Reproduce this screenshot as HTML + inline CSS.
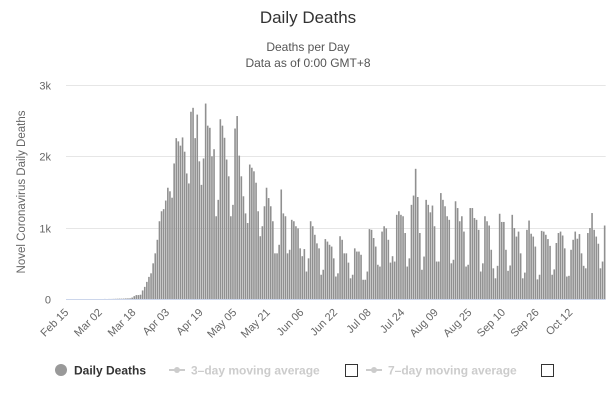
<!DOCTYPE html>
<html><head><meta charset="utf-8"><style>
body{margin:0;background:#fff;font-family:"Liberation Sans",Arial,sans-serif;}
svg{display:block}
</style></head><body>
<svg id="chart" width="616" height="400" viewBox="0 0 616 400" xmlns="http://www.w3.org/2000/svg">
<text x="308" y="23" text-anchor="middle" font-size="17" fill="#333">Daily Deaths</text>
<text x="308" y="51" text-anchor="middle" font-size="12" fill="#555">Deaths per Day</text>
<text x="308" y="67" text-anchor="middle" font-size="12" fill="#555">Data as of 0:00 GMT+8</text>
<text transform="translate(25,192) rotate(-90)" text-anchor="middle" font-size="11.5" fill="#666">Novel Coronavirus Daily Deaths</text>
<g id="grid"></g><g id="bars"></g><g id="xlabels"></g>
<g>
 <g>
  <circle cx="61" cy="370" r="6" fill="#999"/>
  <text x="74" y="374.5" font-size="12" font-weight="bold" fill="#333">Daily Deaths</text>
 </g>
 <g>
  <line x1="169" y1="370" x2="185" y2="370" stroke="#ccc" stroke-width="2"/><circle cx="177" cy="370" r="3" fill="#ccc"/>
  <text x="191" y="374.5" font-size="12" font-weight="bold" fill="#ccc">3–day moving average</text>
 </g>
 <rect x="345.5" y="364.5" width="12" height="12" fill="#fff" stroke="#333" stroke-width="1"/>
 <g>
  <line x1="366" y1="370" x2="382" y2="370" stroke="#ccc" stroke-width="2"/><circle cx="374" cy="370" r="3" fill="#ccc"/>
  <text x="388" y="374.5" font-size="12" font-weight="bold" fill="#ccc">7–day moving average</text>
 </g>
 <rect x="541.5" y="364.5" width="12" height="12" fill="#fff" stroke="#333" stroke-width="1"/>
</g>
</svg>
<script>
const startDate = [2020, 1, 14];
const values = [0,0,0,0,0,0,0,0,0,0,0,0,0,0,0,0,
0,0,1,0,1,1,2,3,4,5,5,6,8,9,
10,20,40,55,55,60,120,170,240,310,360,500,640,830,1090,1230,1260,1380,1560,1510,1420,1900,
2255,2210,2150,2265,2065,1760,1620,
2625,2680,2255,2585,1930,1600,1970,
2740,2430,2400,2000,
2100,1160,1390,2520,2430,2260,1955,1720,1160,1320,2390,2565,2010,1720,1440,1200,1065,1885,1840,1790,1630,1230,880,1020,1300,1560,1415,1300,1090,640,640,760,1535,1200,1160,640,690,1110,1090,1020,990,710,600,700,
385,570,1090,1020,900,780,710,340,410,840,805,760,735,570,315,360,880,830,640,640,510,290,340,710,665,665,620,270,270,385,980,970,855,735,480,455,945,1020,990,830,510,600,
525,1180,1230,1180,1160,925,455,570,1320,1450,1825,1430,925,410,595,1390,1320,1215,1310,1020,525,525,1485,1390,1300,1160,1110,500,550,1370,1275,1090,1160,945,455,480,1275,1275,1135,1110,970,385,500,
1160,1090,1030,690,430,290,465,1195,1080,1080,690,395,470,1180,995,875,945,640,290,370,970,1100,915,875,735,275,340,955,945,900,840,745,340,415,785,925,945,890,710,315,325,690,830,945,845,910,640,465,430,925,995,1205,970,875,775,430,525,1030];
const yTicks = [0,1000,2000,3000];
const yTickLabels = ["0","1k","2k","3k"];
const xTickLabels = ["Feb 15","Mar 02","Mar 18","Apr 03","Apr 19","May 05","May 21","Jun 06","Jun 22","Jul 08","Jul 24","Aug 09","Aug 25","Sep 10","Sep 26","Oct 12"];

const M=["Jan","Feb","Mar","Apr","May","Jun","Jul","Aug","Sep","Oct","Nov","Dec"];
const categories = values.map((v,i)=>{const d=new Date(startDate[0],startDate[1],startDate[2]+i);return M[d.getMonth()]+" "+String(d.getDate()).padStart(2,"0");});
const NS="http://www.w3.org/2000/svg";
const X0=66,X1=605.7,Y0=299,Y3=85,YMAX=3000;
const step=(X1-X0)/values.length;
const xScale=i=>X0+step*(i+0.5);
const yScale=v=>Y0-(v/YMAX)*(Y0-Y3);
function mk(t,a,p){const e=document.createElementNS(NS,t);for(const k in a)e.setAttribute(k,a[k]);p.appendChild(e);return e;}
const grid=document.getElementById('grid');
yTicks.forEach((t,k)=>{
  const y=Math.round(yScale(t))+0.5;
  const l=mk('line',{x1:X0,x2:X1,y1:y,y2:y,stroke:t===0?'#ccd6eb':'#e6e6e6','stroke-width':1},grid);
  
  
  const tx=mk('text',{x:51,y:y+4,'text-anchor':'end','font-size':11,fill:'#666'},grid);
  tx.textContent=yTickLabels[k];
  
  
});
const bars=document.getElementById('bars');
values.forEach((v,i)=>{
  if(v<=0)return;
  const y=yScale(v);
  const r=mk('rect',{x:xScale(i)-0.8,y:y,width:1.6,height:Y0-y,fill:'#909090'},bars);
  
  
});
const xl=document.getElementById('xlabels');
xTickLabels.forEach(lab=>{
  const i=categories.indexOf(lab);
  if(i<0)return;
  const x=xScale(i);
  const t=mk('text',{x:x,y:313,'text-anchor':'end','font-size':11,fill:'#666',transform:`rotate(-45 ${x} 313)`},xl);
  t.textContent=lab;
  
  
});
</script>
</body></html>
